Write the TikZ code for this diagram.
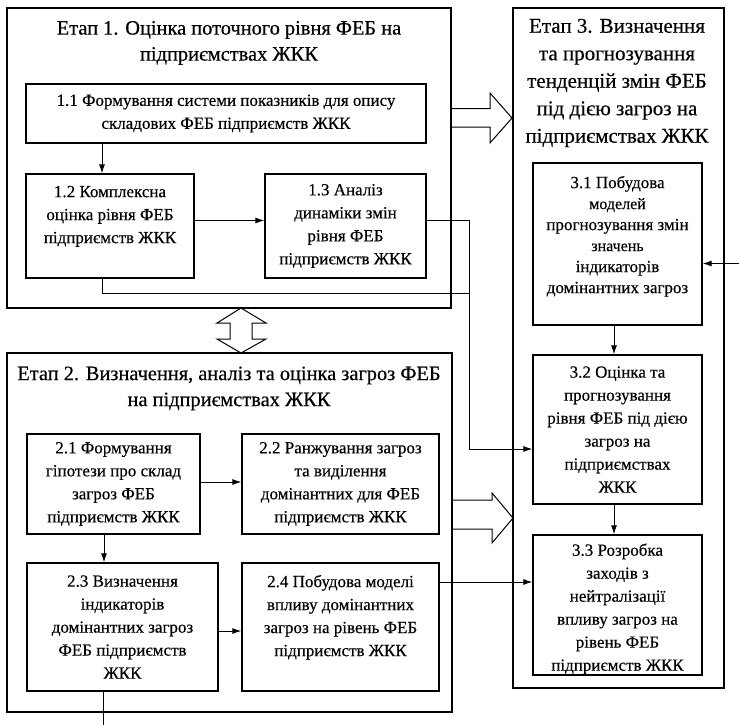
\documentclass[tikz,border=0pt]{standalone}
\usepackage{fontspec}
\setmainfont{Liberation Serif}[FakeBold=0.4]
\usetikzlibrary{arrows.meta}
\newcommand\boxfont{\fontsize{17}{23}\selectfont}
\newcommand\boxfontn{\fontsize{17}{21}\selectfont}
\newcommand\smfont{\fontsize{16}{21}\selectfont}
\newcommand\ttlfont{\fontsize{20.4}{26}\selectfont}
\newcommand\ttlfontc{\fontsize{21}{27.5}\selectfont}
\begin{document}
\begin{tikzpicture}[x=1pt,y=-1pt,
  stage/.style={draw, line width=1.3pt, inner sep=0pt},
  blk/.style={draw, line width=1.3pt, inner sep=0pt, align=center, font=\boxfont},
  ttl/.style={inner sep=0pt, align=center},
  arr/.style={-{Latex[length=9pt,width=6pt]}, line width=1pt},
  ln/.style={line width=1pt},
  hollow/.style={draw, line width=1pt, line join=miter}]
\useasboundingbox[fill=white] (0,0) rectangle (739,725);
% stages
\node[stage, minimum width=444pt, minimum height=300pt] (s1) at (229,158) {};
\node[stage, minimum width=445pt, minimum height=359pt] (s2) at (229.5,532.5) {};
\node[stage, minimum width=211pt, minimum height=680pt] (s3) at (618.5,348) {};
% titles
\node[ttl, font=\ttlfont] (t1) at (229,43) {Етап 1. Оцінка поточного рівня ФЕБ на\\підприємствах ЖКК};
\node[ttl, font=\ttlfont] (t2) at (229,388.5) {Етап 2. Визначення, аналіз та оцінка загроз ФЕБ\\на підприємствах ЖКК};
\node[ttl, font=\ttlfontc] (t3) at (617,83) {Етап 3. Визначення\\та прогнозування\\тенденцій змін ФЕБ\\під дією загроз на\\підприємствах ЖКК};
% boxes
\node[blk, minimum width=400pt, minimum height=59pt] (n11) at (226,113.5) {1.1 Формування системи показників для опису\\складових ФЕБ підприємств ЖКК};
\node[blk, minimum width=168pt, minimum height=104pt] (n12) at (110,226) {1.2 Комплексна\\оцінка рівня ФЕБ\\підприємств ЖКК\\\mbox{}};
\node[blk, minimum width=161pt, minimum height=104pt] (n13) at (345.5,226) {1.3 Аналіз\\динаміки змін\\рівня ФЕБ\\підприємств ЖКК};
\node[blk, minimum width=173pt, minimum height=100pt] (n21) at (113.5,484) {2.1 Формування\\гіпотези про склад\\загроз ФЕБ\\підприємств ЖКК};
\node[blk, minimum width=197pt, minimum height=100pt] (n22) at (340.5,484) {2.2 Ранжування загроз\\та виділення\\домінантних для ФЕБ\\підприємств ЖКК};
\node[blk, minimum width=191pt, minimum height=128pt] (n23) at (122.5,627) {2.3 Визначення\\індикаторів\\домінантних загроз\\ФЕБ підприємств\\ЖКК};
\node[blk, minimum width=197pt, minimum height=128pt] (n24) at (340.5,627) {2.4 Побудова моделі\\впливу домінантних\\загроз на рівень ФЕБ\\підприємств ЖКК\\\mbox{}};
\node[blk, font=\boxfontn, minimum width=169pt, minimum height=162pt] (n31) at (617.5,244) {3.1 Побудова\\{\smfont моделей}\\прогнозування змін\\{\smfont значень}\\індикаторів\\домінантних загроз\\[-2pt]\mbox{}};
\node[blk, minimum width=169pt, minimum height=149pt] (n32) at (617.5,429.5) {3.2 Оцінка та\\прогнозування\\рівня ФЕБ під дією\\загроз на\\підприємствах\\ЖКК};
\node[blk, minimum width=169pt, minimum height=140pt] (n33) at (617.5,605) {\rule{0pt}{20pt}3.3 Розробка\\заходів з\\нейтралізації\\впливу загроз на\\рівень ФЕБ\\підприємств ЖКК};
% helper coordinates
\coordinate (kx1) at (102,0);
\coordinate (kx2) at (104,0);
\coordinate (kx3) at (614,0);
\coordinate (jx) at (469,0);
\coordinate (ky1) at (0,220.5);
\coordinate (ky2) at (0,449);
\coordinate (ky3) at (0,293);
\coordinate (ky4) at (0,482);
\coordinate (ky5) at (0,631);
\coordinate (ky6) at (0,582);
\coordinate (e1) at (103,725);
\coordinate (e2) at (739,263.5);
% connectors
\draw[arr] (n11.south -| kx1) -- (n12.north -| kx1);
\draw[arr] (n12.east |- ky1) -- (n13.west |- ky1);
\draw[arr] (n13.east |- ky1) -| (jx |- ky2) -- (n32.west |- ky2);
\draw[ln] (n12.south -| kx1) |- (jx |- ky3);
\draw[arr] (n31.south -| kx3) -- (n32.north -| kx3);
\draw[arr] (n32.south -| kx3) -- (n33.north -| kx3);
\draw[arr] (n21.east |- ky4) -- (n22.west |- ky4);
\draw[arr] (n21.south -| kx2) -- (n23.north -| kx2);
\draw[arr] (n23.east |- ky5) -- (n24.west |- ky5);
\draw[arr] (n24.east |- ky6) -- (n33.west |- ky6);
\draw[ln] (n23.south -| e1) -- (e1);
\draw[arr] (e2) -- (n31.east |- e2);
% hollow block arrows
\draw[hollow] (451,108.5) -- (490,108.5) -- (490,93) -- (512,118) -- (490,143) -- (490,127) -- (451,127);
\draw[hollow] (452,500) -- (492,500) -- (492,493) -- (513,518) -- (492,543) -- (492,529) -- (452,529);
\draw[hollow] (241,308) -- (266,323) -- (252,323) -- (252,339) -- (266,339) -- (241,353) -- (217,339) -- (230,339) -- (230,323) -- (217,323) -- cycle;
\end{tikzpicture}
\end{document}
